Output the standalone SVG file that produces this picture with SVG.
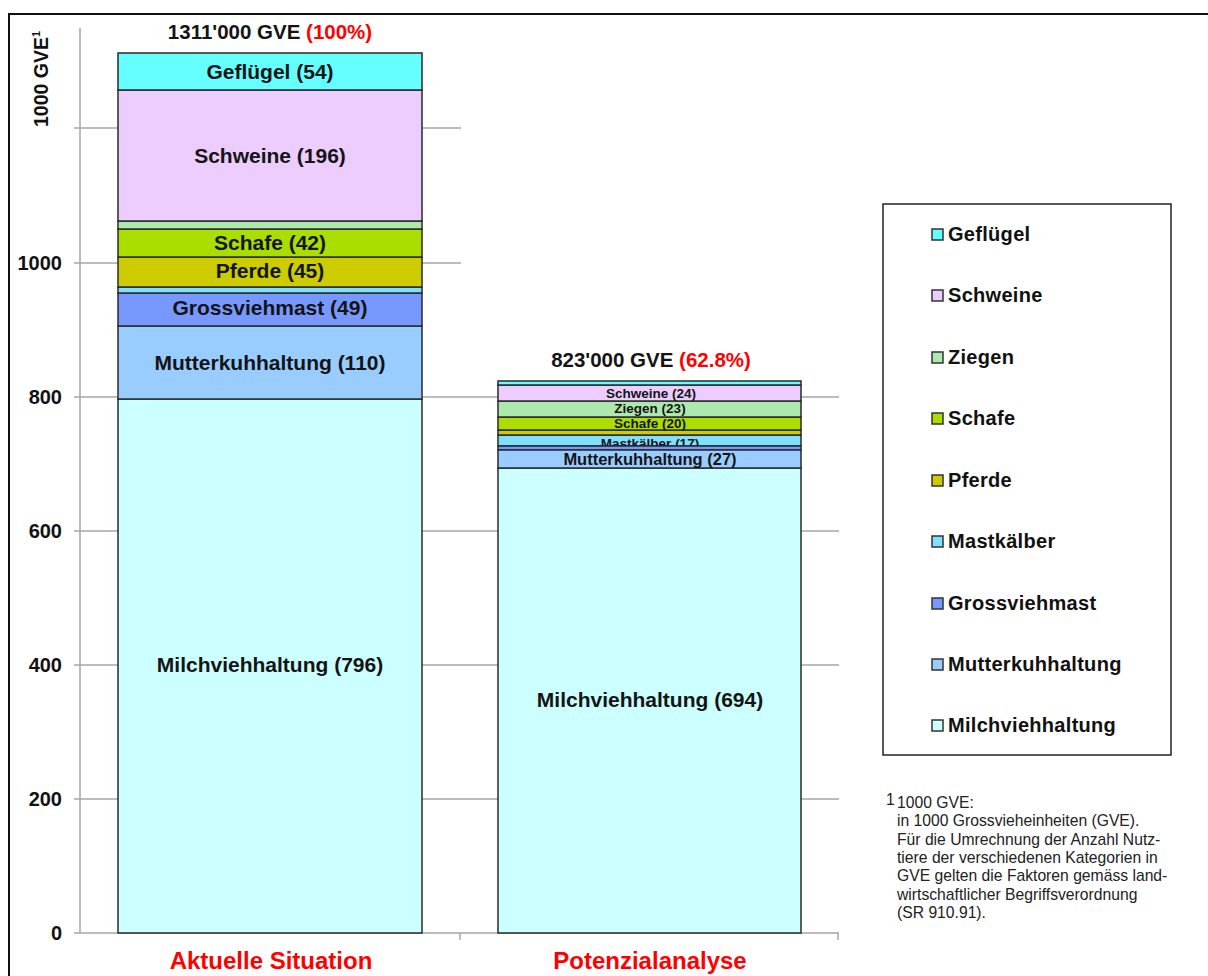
<svg xmlns="http://www.w3.org/2000/svg" width="1208" height="976" viewBox="0 0 1208 976">
<style>
.seg{stroke:#2a2a2a;stroke-width:1.5}
.grid{stroke:#a6a6a6;stroke-width:1.5;fill:none}
.lbl{font-family:"Liberation Sans",Arial,sans-serif;font-weight:bold;fill:#141414;text-anchor:middle}
.big{font-size:21px}
.sm{font-size:13.5px}
.tick{font-family:"Liberation Sans",Arial,sans-serif;font-weight:bold;font-size:20px;fill:#111;text-anchor:end}
.cat{font-family:"Liberation Sans",Arial,sans-serif;font-weight:bold;font-size:24px;fill:#ff0000;text-anchor:middle}
.leg{font-family:"Liberation Sans",Arial,sans-serif;font-weight:bold;font-size:20px;fill:#111;letter-spacing:0.3px}
.sw{stroke:#333;stroke-width:1.5}
.fn{font-family:"Liberation Sans",Arial,sans-serif;font-size:15.7px;fill:#222}
.red{fill:#ff0000}
</style>
<defs>
<clipPath id="clipMast"><rect x="498" y="435" width="303" height="11"/></clipPath>
</defs>
<rect x="9" y="14" width="1215" height="975" fill="#ffffff" stroke="#111" stroke-width="2"/>

<g id="axes">
<line class="grid" x1="74" y1="128" x2="461" y2="128"/>
<line class="grid" x1="74" y1="263" x2="461" y2="263"/>
<line class="grid" x1="74" y1="397" x2="839" y2="397"/>
<line class="grid" x1="74" y1="531" x2="839" y2="531"/>
<line class="grid" x1="74" y1="665" x2="839" y2="665"/>
<line class="grid" x1="74" y1="799" x2="839" y2="799"/>
<line class="grid" x1="80" y1="28" x2="80" y2="933"/>
<line class="grid" x1="74" y1="933" x2="839" y2="933"/>
<line class="grid" x1="460" y1="933" x2="460" y2="940"/>
<line class="grid" x1="838" y1="933" x2="838" y2="940"/>
<text class="tick" x="62" y="940">0</text>
<text class="tick" x="62" y="806">200</text>
<text class="tick" x="62" y="672">400</text>
<text class="tick" x="62" y="538">600</text>
<text class="tick" x="62" y="404">800</text>
<text class="tick" x="62" y="270">1000</text>
<text transform="translate(48,127) rotate(-90)" font-family="Liberation Sans, Arial, sans-serif" font-weight="bold" font-size="19.5" fill="#111">1000 GVE<tspan font-size="11" dy="-8">1</tspan></text>
<text class="cat" x="271" y="969">Aktuelle Situation</text>
<text class="cat" x="650" y="969">Potenzialanalyse</text>
</g>

<g id="bar-aktuell">
<g id="a-milch"><rect class="seg" x="118" y="399" width="304" height="534" fill="#ccffff"/><text class="lbl big" x="270" y="671.5">Milchviehhaltung (796)</text></g>
<g id="a-mutterkuh"><rect class="seg" x="118" y="326" width="304" height="73" fill="#99ccff"/><text class="lbl big" x="270" y="369.5">Mutterkuhhaltung (110)</text></g>
<g id="a-grossvieh"><rect class="seg" x="118" y="293" width="304" height="33" fill="#7799ff"/><text class="lbl big" x="270" y="315">Grossviehmast (49)</text></g>
<g id="a-mast"><rect class="seg" x="118" y="287" width="304" height="6" fill="#80e0ff"/></g>
<g id="a-pferde"><rect class="seg" x="118" y="257" width="304" height="30" fill="#cccc00"/><text class="lbl big" x="270" y="277.5">Pferde (45)</text></g>
<g id="a-schafe"><rect class="seg" x="118" y="229" width="304" height="28" fill="#aadd00"/><text class="lbl big" x="270" y="249.5">Schafe (42)</text></g>
<g id="a-ziegen"><rect class="seg" x="118" y="221" width="304" height="8" fill="#ade8ad"/></g>
<g id="a-schweine"><rect class="seg" x="118" y="90" width="304" height="131" fill="#eccdfe"/><text class="lbl big" x="270" y="162.5">Schweine (196)</text></g>
<g id="a-gefluegel"><rect class="seg" x="118" y="53" width="304" height="37" fill="#66ffff"/><text class="lbl big" x="270" y="78.5">Geflügel (54)</text></g>
<text class="lbl" font-size="20.5" x="270" y="39">1311'000 GVE <tspan class="red">(100%)</tspan></text>
</g>

<g id="bar-potenzial">
<g id="p-milch"><rect class="seg" x="498" y="468" width="303" height="465" fill="#ccffff"/><text class="lbl big" x="650" y="706.5">Milchviehhaltung (694)</text></g>
<g id="p-mast"><rect class="seg" x="498" y="435" width="303" height="11" fill="#80e0ff"/><text class="lbl sm" x="650" y="448" clip-path="url(#clipMast)">Mastkälber (17)</text></g>
<g id="p-grossvieh"><rect class="seg" x="498" y="446" width="303" height="4" fill="#7799ff"/></g>
<g id="p-mutterkuh"><rect class="seg" x="498" y="450" width="303" height="18" fill="#99ccff"/><text class="lbl" font-size="16.5" x="650" y="465">Mutterkuhhaltung (27)</text></g>
<g id="p-pferde"><rect class="seg" x="498" y="430" width="303" height="5" fill="#cccc00"/></g>
<g id="p-schafe"><rect class="seg" x="498" y="417" width="303" height="13" fill="#aadd00"/></g>
<g id="p-ziegen"><rect class="seg" x="498" y="401" width="303" height="16" fill="#ade8ad"/><text class="lbl sm" x="650" y="413">Ziegen (23)</text></g>
<text class="lbl sm" x="650" y="428">Schafe (20)</text>
<g id="p-schweine"><rect class="seg" x="498" y="385" width="303" height="16" fill="#eccdfe"/><text class="lbl sm" x="651" y="397.5">Schweine (24)</text></g>
<g id="p-gefluegel"><rect class="seg" x="498" y="381" width="303" height="4" fill="#66ffff"/></g>
<text class="lbl" font-size="20.5" x="651" y="367">823'000 GVE <tspan class="red">(62.8%)</tspan></text>
</g>

<g id="legend">
<rect x="883" y="204" width="288" height="551" fill="#ffffff" stroke="#222" stroke-width="1.5"/>
<g id="leg-gefluegel"><rect class="sw" x="932" y="229" width="11" height="11" fill="#66ffff"/><text class="leg" x="948" y="241">Geflügel</text></g>
<g id="leg-schweine"><rect class="sw" x="932" y="290" width="11" height="11" fill="#eccdfe"/><text class="leg" x="948" y="302">Schweine</text></g>
<g id="leg-ziegen"><rect class="sw" x="932" y="352" width="11" height="11" fill="#ade8ad"/><text class="leg" x="948" y="364">Ziegen</text></g>
<g id="leg-schafe"><rect class="sw" x="932" y="413" width="11" height="11" fill="#aadd00"/><text class="leg" x="948" y="425">Schafe</text></g>
<g id="leg-pferde"><rect class="sw" x="932" y="475" width="11" height="11" fill="#cccc00"/><text class="leg" x="948" y="487">Pferde</text></g>
<g id="leg-mast"><rect class="sw" x="932" y="536" width="11" height="11" fill="#80e0ff"/><text class="leg" x="948" y="548">Mastkälber</text></g>
<g id="leg-grossvieh"><rect class="sw" x="932" y="598" width="11" height="11" fill="#7799ff"/><text class="leg" x="948" y="610">Grossviehmast</text></g>
<g id="leg-mutterkuh"><rect class="sw" x="932" y="659" width="11" height="11" fill="#99ccff"/><text class="leg" x="948" y="671">Mutterkuhhaltung</text></g>
<g id="leg-milch"><rect class="sw" x="932" y="720" width="11" height="11" fill="#ccffff"/><text class="leg" x="948" y="732">Milchviehhaltung</text></g>
</g>

<g id="footnote">
<text class="fn" x="886" y="805" font-size="10">1</text>
<text class="fn" x="897" y="808">1000 GVE:</text>
<text class="fn" x="897" y="826.3">in 1000 Grossvieheinheiten (GVE).</text>
<text class="fn" x="897" y="844.6">Für die Umrechnung der Anzahl Nutz-</text>
<text class="fn" x="897" y="862.9">tiere der verschiedenen Kategorien in</text>
<text class="fn" x="897" y="881.2">GVE gelten die Faktoren gemäss land-</text>
<text class="fn" x="897" y="899.5">wirtschaftlicher Begriffsverordnung</text>
<text class="fn" x="897" y="917.8">(SR 910.91).</text>
</g>
</svg>
